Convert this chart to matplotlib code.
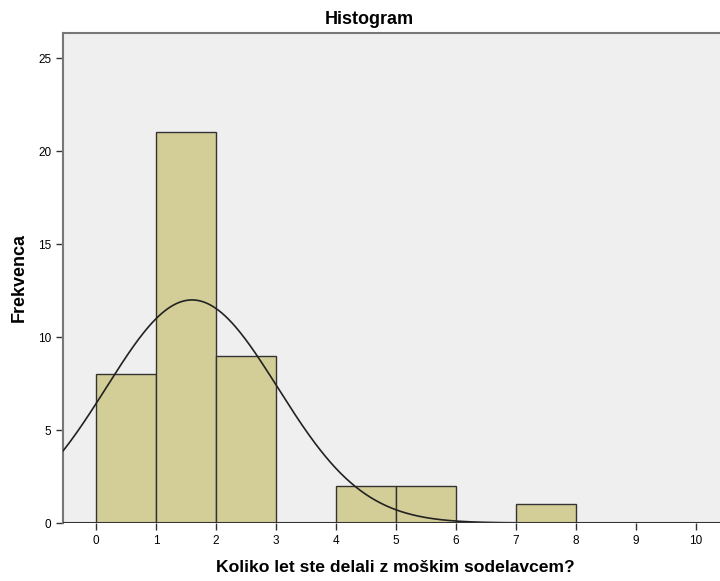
import matplotlib
matplotlib.use('Agg')
import matplotlib.pyplot as plt
import numpy as np

# histogram counts, bins of width 1 starting at 0
bin_edges = [0, 1, 2, 3, 4, 5, 6, 7, 8]
counts = [8, 21, 9, 0, 2, 2, 0, 1]
n_total = 43
mean_est = 1.6
sd_est = 1.43

x_ticks = [0, 1, 2, 3, 4, 5, 6, 7, 8, 9, 10]
y_ticks = [0, 5, 10, 15, 20, 25]

plt.rcParams['font.family'] = ['Liberation Sans', 'DejaVu Sans']

fig = plt.figure(figsize=(7.2, 5.81), dpi=100)
ax = fig.add_axes([63 / 720, 1 - 523 / 581, 1 - 63 / 720, (523 - 33) / 581])
ax.set_facecolor('#EFEFEF')

lefts = np.array(bin_edges[:-1])
widths = np.diff(bin_edges)
ax.bar(lefts, counts, width=widths, align='edge', color='#D3CE97',
       edgecolor='#333333', linewidth=1.0, zorder=2)

# fitted normal curve, scaled to counts (N * bin width * pdf)
xs = np.linspace(-0.6, 10.5, 400)
ys = n_total / (sd_est * np.sqrt(2 * np.pi)) * np.exp(-0.5 * ((xs - mean_est) / sd_est) ** 2)
ax.plot(xs, ys, color='#222222', linewidth=1.2, zorder=3)
ax.axhline(0, color='#333333', linewidth=1.5, zorder=4)

ax.set_xlim(-0.55, 10.4)
ax.set_ylim(0, 26.35)
ax.set_xticks(x_ticks)
ax.set_yticks(y_ticks)
ax.tick_params(axis='both', labelsize=8.5, color='#333333', length=5, width=1)

for side in ['right', 'bottom']:
    ax.spines[side].set_visible(False)
for side in ['top', 'left']:
    ax.spines[side].set_color('#777777')
    ax.spines[side].set_linewidth(1.5)

fig.text(369 / 720, 1 - 19.5 / 581, 'Histogram', fontsize=13, fontweight='bold',
         ha='center', va='center')
fig.text(395 / 720, 1 - 567 / 581, 'Koliko let ste delali z moškim sodelavcem?',
         fontsize=12.6, fontweight='bold', ha='center', va='center')
fig.text(19 / 720, 1 - 277 / 581, 'Frekvenca', fontsize=13, fontweight='bold',
         ha='center', va='center', rotation=90)

fig.savefig('out.png', dpi=100)
